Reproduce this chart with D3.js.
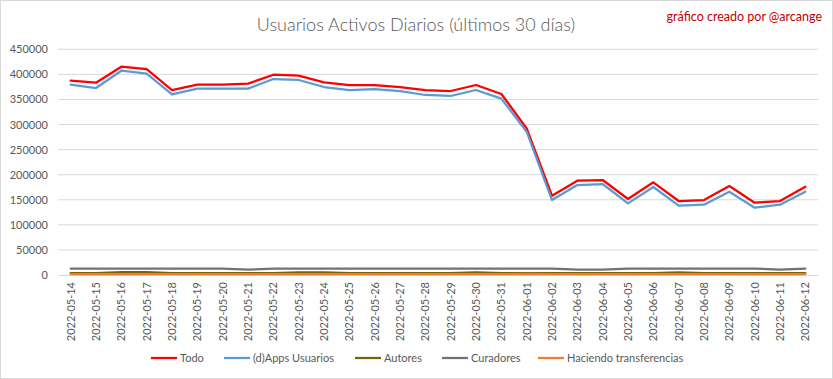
<!DOCTYPE html>
<html><head><meta charset="utf-8">
<script src="https://cdn.jsdelivr.net/npm/d3@7"></script>
<style>body{margin:0;background:#fff}</style>
</head><body>
<svg id="c" width="833" height="379"></svg>
<script>
const dates = ["2022-05-14","2022-05-15","2022-05-16","2022-05-17","2022-05-18","2022-05-19","2022-05-20","2022-05-21","2022-05-22","2022-05-23","2022-05-24","2022-05-25","2022-05-26","2022-05-27","2022-05-28","2022-05-29","2022-05-30","2022-05-31","2022-06-01","2022-06-02","2022-06-03","2022-06-04","2022-06-05","2022-06-06","2022-06-07","2022-06-08","2022-06-09","2022-06-10","2022-06-11","2022-06-12"];
const todo = [387500,383400,415300,410700,368800,379400,379400,381500,399300,397400,384200,378800,378800,374800,368800,366800,378800,360900,292500,158000,188000,189400,151500,184800,147500,149500,177400,144100,147500,176000];
const apps = [379500,372800,407300,401300,360300,371500,371500,371500,390700,388800,374800,368800,370800,366800,358900,356900,368800,351600,285700,149500,179400,181400,142900,175400,138200,140200,166100,134200,140200,166100];
const autores = [3500,3500,5500,5500,3500,3500,3500,3500,3500,5000,5000,3500,3500,3500,3500,3500,5000,3500,3500,3500,3500,3500,3500,3500,5000,3500,3500,3500,3500,3500];
const curadores = [12800,12800,12800,12800,12800,12800,12800,10500,12800,12800,12800,12800,12800,12800,12800,12800,12800,12800,12800,12800,10800,10800,12800,12800,12800,12800,12800,12800,10800,12800];
const transferencias = [1500,1500,1500,1500,1500,1500,1500,1500,1500,1500,1500,1500,1500,1500,1500,1500,1500,1500,2200,1500,1500,1500,1500,1500,1500,1500,1500,1500,1500,1500];
const yTicks = [0,50000,100000,150000,200000,250000,300000,350000,400000,450000];
const seriesNames = ["Todo","(d)Apps Usuarios","Autores","Curadores","Haciendo transferencias"];
const seriesColors = ["#FF0000","#5B9BD5","#7F6000","#767171","#ED7D31"];
const seriesData = [todo, apps, autores, curadores, transferencias];

const svg = d3.select("#c");
const font = "Lato, 'Open Sans', sans-serif";
svg.append("rect").attr("x",0.5).attr("y",0.5).attr("width",832).attr("height",378)
  .attr("fill","#fff").attr("stroke","#D9D9D9");

const x = d3.scaleBand().domain(dates).range([58,818]);
const y = d3.scaleLinear().domain([0,450000]).range([275,49.3]);

// gridlines
svg.append("g").selectAll("line").data(yTicks.filter(d=>d>0)).join("line")
  .attr("x1",58).attr("x2",818).attr("y1",d=>y(d)).attr("y2",d=>y(d))
  .attr("stroke","#D9D9D9").attr("stroke-width",1);

// y axis
const ya = svg.append("g").attr("transform","translate(58,0)")
  .call(d3.axisLeft(y).tickValues(yTicks).tickFormat(d3.format("d")).tickSize(0).tickPadding(10));
ya.select(".domain").remove();
ya.selectAll("text").attr("font-family",font).attr("font-size",11).attr("fill","#595959");

// x axis
const xa = svg.append("g").attr("transform","translate(0,275)")
  .call(d3.axisBottom(x).tickSize(0).tickPadding(0));
xa.select(".domain").attr("stroke","#D9D9D9").attr("d","M58,0.5H818");
xa.selectAll("text").attr("font-family",font).attr("font-size",11).attr("fill","#595959")
  .attr("transform","rotate(-90)").attr("text-anchor","end").attr("dy","0.35em").attr("y",0).attr("x",-7);

// lines
const line = d3.line().x((d,i)=>x(dates[i])+x.bandwidth()/2).y(d=>y(d));
seriesData.forEach((s,k)=>{
  svg.append("path").datum(s).attr("d",line).attr("fill","none")
    .attr("stroke",seriesColors[k]).attr("stroke-width",2.25).attr("stroke-linejoin","round").attr("stroke-linecap","round");
});

// title
svg.append("text").attr("x",416).attr("y",31).attr("text-anchor","middle")
  .attr("font-family",font).attr("font-weight",300).attr("font-size",18).attr("fill","#595959")
  .text("Usuarios Activos Diarios (últimos 30 días)");
svg.append("text").attr("x",822).attr("y",21).attr("text-anchor","end")
  .attr("font-family",font).attr("font-size",12.5).attr("fill","#C00000")
  .text("gráfico creado por @arcange");

// legend
const legX = [151,224,355,442,538];
const lg = svg.append("g");
seriesNames.forEach((n,k)=>{
  lg.append("line").attr("x1",legX[k]).attr("x2",legX[k]+26).attr("y1",358).attr("y2",358)
    .attr("stroke",seriesColors[k]).attr("stroke-width",2.25);
  lg.append("text").attr("x",legX[k]+29).attr("y",358).attr("dy","0.35em")
    .attr("font-family",font).attr("font-size",11).attr("fill","#595959").text(n);
});
</script>
</body></html>
